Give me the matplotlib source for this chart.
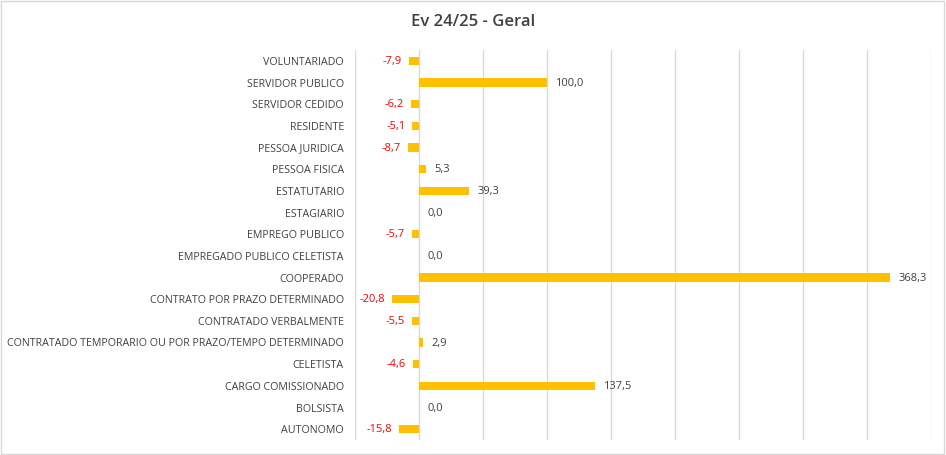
import matplotlib.pyplot as plt
from matplotlib.patches import Rectangle

categories = ['VOLUNTARIADO', 'SERVIDOR PUBLICO', 'SERVIDOR CEDIDO', 'RESIDENTE',
              'PESSOA JURIDICA', 'PESSOA FISICA', 'ESTATUTARIO', 'ESTAGIARIO',
              'EMPREGO PUBLICO', 'EMPREGADO PUBLICO CELETISTA', 'COOPERADO',
              'CONTRATO POR PRAZO DETERMINADO', 'CONTRATADO VERBALMENTE',
              'CONTRATADO TEMPORARIO OU POR PRAZO/TEMPO DETERMINADO', 'CELETISTA',
              'CARGO COMISSIONADO', 'BOLSISTA', 'AUTONOMO']
values = [-7.9, 100.0, -6.2, -5.1, -8.7, 5.3, 39.3, 0.0, -5.7, 0.0, 368.3,
          -20.8, -5.5, 2.9, -4.6, 137.5, 0.0, -15.8]

plt.rcParams['font.family'] = ['Open Sans', 'DejaVu Sans']

fig = plt.figure(figsize=(9.46, 4.55), dpi=100)
ax = fig.add_axes([355 / 946, 1 - 440 / 455, 576 / 946, 390 / 455])

ypos = list(range(len(categories)))[::-1]
ax.barh(ypos, values, height=0.37, color='#FFC000', zorder=3)

for y, v in zip(ypos, values):
    txt = f'{v:.1f}'.replace('.', ',')
    if v < 0:
        ax.annotate(txt, (v, y), xytext=(-5, -0.5), textcoords='offset points',
                    ha='right', va='center', fontsize=8, color='#FF0000')
    else:
        ax.annotate(txt, (v, y), xytext=(6, -0.5), textcoords='offset points',
                    ha='left', va='center', fontsize=8, color='#404040')

ax.set_xlim(-50, 400)
ax.set_ylim(-0.5, 17.5)
ax.set_xticks(range(-50, 401, 50))
ax.set_xticklabels([])
ax.set_yticks(ypos)
ax.set_yticklabels(categories, fontsize=7.7, color='#404040')
ax.tick_params(length=0, axis='both', pad=8)
ax.grid(axis='x', color='#D9D9D9', linewidth=1, zorder=0)
for s in ax.spines.values():
    s.set_visible(False)

fig.text(0.5, 1 - 22 / 455, 'Ev 24/25 - Geral', ha='center', va='center',
         fontsize=12, color='#404040', fontweight='semibold')

fig.patches.append(Rectangle((0.001, 0.002), 0.997, 0.995, transform=fig.transFigure,
                             fill=False, edgecolor='#D9D9D9', linewidth=1))

fig.savefig('out.png', dpi=100)
